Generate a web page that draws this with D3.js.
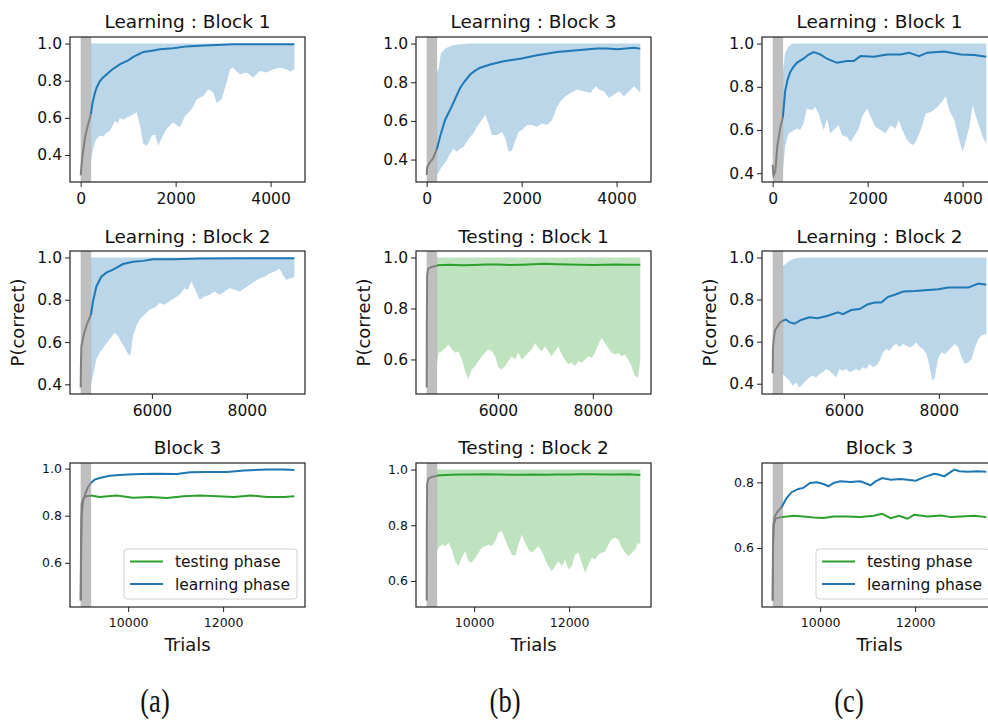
<!DOCTYPE html>
<html><head><meta charset="utf-8">
<script src="https://cdn.jsdelivr.net/npm/d3@7"></script>
<style>body{margin:0;background:#fff}svg{display:block}</style>
</head><body><svg id="c" width="988" height="722"></svg>
<script>
// ---------------- DATA ----------------
const blockStarts = [0, 4500, 9000];
const blockLen = 4500;
const warmEnd = 220;
const xTicksRow = [[0, 2000, 4000], [6000, 8000], [10000, 12000]];
const yTicksA1 = [0.4, 0.6, 0.8, 1.0], yTicksA2 = [0.4, 0.6, 0.8, 1.0], yTicksA3 = [0.6, 0.8, 1.0];
const yTicksB1 = [0.4, 0.6, 0.8, 1.0], yTicksB2 = [0.6, 0.8, 1.0], yTicksB3 = [0.6, 0.8, 1.0];
const yTicksC1 = [0.4, 0.6, 0.8, 1.0], yTicksC2 = [0.4, 0.6, 0.8, 1.0], yTicksC3 = [0.6, 0.8];
const titles = [["Learning : Block 1", "Learning : Block 3", "Learning : Block 1"],
                ["Learning : Block 2", "Testing : Block 1", "Learning : Block 2"],
                ["Block 3", "Testing : Block 2", "Block 3"]];
const panelLabels = ["(a)", "(b)", "(c)"];
const legendLabels = ["testing phase", "learning phase"];

// (a) Learning Block 1
const a1Warm = [[0,0.29],[20,0.35],[40,0.40],[90,0.49],[140,0.55],[215,0.62]];
const a1Mean = [[215,0.62],[250,0.68],[300,0.735],[340,0.765],[400,0.795],[450,0.812],[550,0.835],[650,0.858],[830,0.889],[1000,0.91],[1110,0.928],[1200,0.94],[1320,0.955],[1500,0.962],[1670,0.969],[1950,0.975],[2230,0.985],[2500,0.988],[2860,0.993],[3200,0.997],[3600,0.997],[4000,0.997],[4500,0.996]];
const a1Upper = [[215,1.0],[4500,1.0]];
const a1Lower = [[215,0.37],[240,0.40],[260,0.43],[300,0.47],[350,0.49],[406,0.505],[470,0.50],[546,0.52],[620,0.53],[722,0.585],[780,0.57],[827,0.60],[900,0.59],[968,0.60],[1040,0.61],[1109,0.62],[1179,0.63],[1249,0.558],[1319,0.46],[1389,0.45],[1440,0.47],[1495,0.505],[1565,0.51],[1635,0.45],[1705,0.49],[1760,0.52],[1811,0.54],[1880,0.56],[1951,0.575],[2020,0.56],[2091,0.55],[2197,0.61],[2302,0.635],[2370,0.66],[2443,0.70],[2583,0.718],[2688,0.754],[2794,0.736],[2864,0.68],[2969,0.70],[3074,0.79],[3144,0.862],[3215,0.87],[3285,0.85],[3355,0.835],[3495,0.844],[3636,0.817],[3776,0.853],[3917,0.844],[4057,0.862],[4197,0.87],[4338,0.862],[4420,0.85],[4500,0.862]];

// (a) Learning Block 2
const a2Warm = [[4500,0.385],[4505,0.49],[4515,0.58],[4570,0.64],[4640,0.69],[4715,0.727]];
const a2Mean = [[4715,0.727],[4760,0.793],[4830,0.863],[4935,0.909],[5040,0.928],[5181,0.943],[5392,0.969],[5602,0.98],[5813,0.984],[6025,0.992],[6446,0.992],[7007,0.995],[8060,0.997],[9000,0.997]];
const a2Upper = [[4715,1.0],[9000,1.0]];
const a2Lower = [[4715,0.396],[4760,0.442],[4830,0.52],[4900,0.551],[5005,0.582],[5111,0.613],[5216,0.644],[5286,0.629],[5356,0.598],[5427,0.574],[5497,0.543],[5546,0.535],[5602,0.629],[5672,0.676],[5742,0.707],[5848,0.73],[5953,0.754],[6058,0.762],[6163,0.785],[6268,0.777],[6374,0.793],[6479,0.808],[6584,0.824],[6688,0.855],[6760,0.847],[6830,0.886],[6900,0.855],[7005,0.80],[7111,0.816],[7216,0.824],[7321,0.839],[7427,0.824],[7532,0.839],[7637,0.855],[7742,0.847],[7847,0.839],[7953,0.855],[8058,0.87],[8163,0.886],[8268,0.901],[8374,0.909],[8479,0.925],[8584,0.933],[8688,0.948],[8760,0.917],[8830,0.893],[8900,0.901],[9000,0.906]];

// (a) Block 3
const a3LearnWarm = [[9000,0.44],[9008,0.6],[9020,0.8],[9050,0.86],[9100,0.895],[9150,0.92],[9215,0.939]];
const a3TestWarm = [[9000,0.44],[9008,0.7],[9020,0.85],[9060,0.876],[9120,0.883],[9215,0.885]];
const a3Learn = [[9215,0.939],[9294,0.953],[9400,0.96],[9612,0.97],[9895,0.974],[10248,0.977],[10601,0.978],[11025,0.977],[11308,0.984],[11661,0.986],[12085,0.986],[12438,0.992],[12933,0.996],[13286,0.996],[13500,0.994]];
const a3Test = [[9215,0.886],[9400,0.879],[9753,0.886],[10107,0.876],[10460,0.879],[10813,0.875],[11167,0.883],[11520,0.886],[11873,0.883],[12227,0.879],[12580,0.886],[12933,0.879],[13287,0.879],[13500,0.883]];

// (b) Learning Block 3
const b1Warm = [[0,0.32],[10,0.36],[30,0.37],[60,0.385],[130,0.405],[215,0.455]];
const b1Mean = [[215,0.455],[281,0.518],[387,0.605],[528,0.675],[704,0.77],[800,0.805],[915,0.84],[1020,0.86],[1127,0.875],[1338,0.892],[1620,0.909],[1972,0.922],[2324,0.94],[2747,0.956],[3169,0.965],[3592,0.974],[3800,0.975],[4014,0.971],[4200,0.975],[4366,0.979],[4500,0.974]];
const b1Upper = [[215,0.85],[250,0.87],[300,0.95],[390,0.975],[530,0.99],[700,0.997],[900,1.0],[4500,1.0]];
const b1Lower = [[215,0.318],[316,0.362],[422,0.396],[492,0.43],[563,0.456],[634,0.44],[704,0.456],[774,0.465],[845,0.492],[915,0.518],[985,0.535],[1056,0.57],[1162,0.605],[1232,0.631],[1303,0.587],[1373,0.527],[1479,0.527],[1585,0.544],[1655,0.51],[1726,0.44],[1796,0.447],[1866,0.5],[1937,0.544],[2007,0.553],[2113,0.579],[2219,0.579],[2324,0.57],[2430,0.587],[2536,0.579],[2641,0.605],[2747,0.675],[2818,0.70],[2923,0.727],[3029,0.744],[3170,0.762],[3310,0.753],[3451,0.744],[3557,0.779],[3627,0.762],[3733,0.753],[3839,0.718],[3944,0.736],[4050,0.753],[4156,0.727],[4261,0.753],[4367,0.779],[4437,0.762],[4500,0.744]];

// (b) Testing Block 1
const b2Warm = [[4500,0.49],[4503,0.75],[4510,0.93],[4530,0.955],[4600,0.963],[4715,0.968]];
const b2Mean = [[4715,0.970],[5000,0.972],[5250,0.970],[5500,0.971],[5750,0.973],[6000,0.973],[6250,0.971],[6500,0.972],[6750,0.974],[7000,0.975],[7250,0.974],[7500,0.973],[7750,0.972],[8000,0.971],[8250,0.972],[8500,0.973],[8750,0.972],[9000,0.972]];
const b2Upper = [[4715,1.0],[9000,1.0]];
const b2Lower = [[4715,0.58],[4750,0.626],[4820,0.632],[4890,0.645],[4960,0.659],[5030,0.64],[5100,0.626],[5170,0.632],[5240,0.60],[5310,0.555],[5380,0.522],[5450,0.561],[5520,0.574],[5591,0.594],[5661,0.613],[5731,0.626],[5801,0.64],[5871,0.632],[5941,0.613],[6011,0.568],[6081,0.561],[6151,0.574],[6221,0.594],[6291,0.613],[6361,0.60],[6431,0.626],[6502,0.60],[6572,0.613],[6642,0.626],[6712,0.64],[6782,0.665],[6852,0.645],[6922,0.632],[6992,0.652],[7062,0.632],[7132,0.613],[7203,0.632],[7273,0.652],[7343,0.619],[7413,0.60],[7483,0.581],[7553,0.587],[7623,0.574],[7693,0.594],[7763,0.587],[7834,0.60],[7904,0.613],[7974,0.606],[8044,0.626],[8114,0.659],[8184,0.684],[8254,0.665],[8324,0.645],[8394,0.626],[8465,0.619],[8535,0.626],[8605,0.613],[8675,0.619],[8745,0.60],[8815,0.574],[8885,0.535],[8955,0.529],[9000,0.60]];

// (b) Testing Block 2
const b3Warm = [[9000,0.53],[9003,0.8],[9010,0.95],[9040,0.968],[9120,0.974],[9215,0.977]];
const b3Mean = [[9215,0.979],[9500,0.981],[9750,0.982],[10000,0.982],[10250,0.983],[10500,0.982],[10750,0.981],[11000,0.981],[11250,0.982],[11500,0.981],[11750,0.982],[12000,0.982],[12250,0.983],[12500,0.983],[12750,0.982],[13000,0.982],[13250,0.983],[13500,0.980]];
const b3Upper = [[9215,1.0],[13500,1.0]];
const b3Lower = [[9215,0.707],[9249,0.719],[9319,0.731],[9389,0.725],[9459,0.737],[9530,0.713],[9600,0.671],[9670,0.653],[9740,0.683],[9810,0.707],[9881,0.671],[9951,0.665],[10021,0.683],[10091,0.701],[10161,0.719],[10232,0.725],[10302,0.731],[10372,0.725],[10442,0.743],[10512,0.773],[10582,0.779],[10653,0.749],[10723,0.719],[10793,0.695],[10863,0.689],[10933,0.731],[11004,0.767],[11074,0.737],[11144,0.713],[11214,0.701],[11284,0.713],[11354,0.725],[11425,0.707],[11495,0.677],[11565,0.653],[11635,0.635],[11705,0.653],[11775,0.671],[11846,0.653],[11916,0.677],[11986,0.641],[12056,0.653],[12126,0.695],[12196,0.701],[12267,0.665],[12337,0.629],[12407,0.659],[12477,0.683],[12547,0.677],[12618,0.695],[12688,0.701],[12758,0.707],[12828,0.731],[12898,0.751],[12968,0.755],[13039,0.749],[13109,0.719],[13179,0.701],[13249,0.689],[13319,0.701],[13389,0.713],[13460,0.737],[13500,0.731]];

// (c) Learning Block 1
const c1Warm = [[0,0.44],[10,0.40],[20,0.39],[55,0.41],[100,0.53],[160,0.61],[215,0.66]];
const c1Mean = [[215,0.66],[261,0.778],[310,0.83],[367,0.867],[430,0.89],[508,0.911],[649,0.93],[750,0.948],[861,0.961],[1002,0.95],[1143,0.93],[1354,0.911],[1566,0.919],[1707,0.919],[1848,0.942],[2130,0.939],[2412,0.95],[2695,0.95],[2871,0.958],[3083,0.942],[3259,0.958],[3612,0.963],[3965,0.95],[4247,0.947],[4500,0.939]];
const c1Upper = [[215,0.87],[260,0.955],[330,0.985],[420,1.0],[4500,1.0]];
const c1Lower = [[215,0.413],[261,0.522],[332,0.584],[402,0.592],[508,0.607],[578,0.6],[649,0.63],[720,0.70],[825,0.692],[896,0.707],[966,0.677],[1072,0.6],[1143,0.653],[1213,0.584],[1284,0.6],[1390,0.622],[1460,0.576],[1566,0.568],[1636,0.545],[1707,0.568],[1813,0.607],[1883,0.662],[1989,0.70],[2094,0.646],[2165,0.615],[2271,0.6],[2376,0.584],[2482,0.622],[2588,0.607],[2659,0.646],[2729,0.6],[2835,0.553],[2941,0.53],[3012,0.545],[3118,0.6],[3224,0.677],[3330,0.684],[3435,0.70],[3541,0.724],[3647,0.755],[3718,0.692],[3824,0.646],[3930,0.553],[4000,0.498],[4071,0.553],[4142,0.615],[4212,0.716],[4283,0.662],[4353,0.615],[4424,0.568],[4500,0.535]];

// (c) Learning Block 2
const c2Warm = [[4500,0.45],[4505,0.56],[4520,0.61],[4550,0.655],[4600,0.672],[4660,0.692],[4715,0.70]];
const c2Mean = [[4715,0.70],[4781,0.705],[4852,0.693],[4957,0.685],[5098,0.703],[5274,0.716],[5450,0.711],[5661,0.723],[5873,0.739],[5979,0.731],[6155,0.75],[6331,0.755],[6507,0.778],[6648,0.786],[6789,0.786],[6930,0.813],[7071,0.823],[7247,0.838],[7494,0.841],[7776,0.846],[7987,0.849],[8198,0.857],[8409,0.857],[8621,0.857],[8832,0.876],[9000,0.87]];
const c2Upper = [[4715,0.96],[4780,0.97],[4850,0.985],[4960,0.995],[5100,1.0],[9000,1.0]];
const c2Lower = [[4715,0.446],[4781,0.43],[4852,0.414],[4922,0.39],[4992,0.406],[5063,0.382],[5133,0.398],[5204,0.414],[5274,0.43],[5345,0.438],[5415,0.43],[5485,0.446],[5556,0.454],[5626,0.47],[5697,0.462],[5767,0.446],[5837,0.43],[5908,0.47],[5978,0.462],[6049,0.47],[6119,0.454],[6190,0.462],[6260,0.47],[6331,0.462],[6401,0.478],[6472,0.47],[6542,0.494],[6613,0.478],[6683,0.486],[6754,0.509],[6824,0.549],[6895,0.565],[6965,0.557],[7036,0.581],[7106,0.589],[7176,0.573],[7247,0.589],[7317,0.581],[7388,0.573],[7458,0.581],[7528,0.597],[7599,0.573],[7669,0.565],[7740,0.541],[7810,0.478],[7860,0.414],[7916,0.43],[7987,0.525],[8057,0.549],[8128,0.541],[8198,0.557],[8269,0.573],[8339,0.589],[8409,0.573],[8480,0.525],[8550,0.494],[8621,0.502],[8691,0.517],[8762,0.573],[8832,0.613],[8903,0.629],[8973,0.637],[9000,0.629]];

// (c) Block 3
const c3LearnWarm = [[9000,0.44],[9005,0.6],[9015,0.67],[9040,0.695],[9100,0.71],[9190,0.725]];
const c3TestWarm = [[9000,0.44],[9010,0.62],[9025,0.67],[9060,0.69],[9190,0.694]];
const c3Learn = [[9190,0.725],[9293,0.752],[9399,0.77],[9541,0.78],[9647,0.783],[9788,0.798],[9929,0.80],[10071,0.795],[10177,0.788],[10283,0.798],[10424,0.803],[10636,0.801],[10848,0.803],[11060,0.791],[11166,0.803],[11307,0.813],[11484,0.808],[11696,0.81],[11837,0.808],[12014,0.805],[12191,0.816],[12403,0.826],[12509,0.823],[12615,0.818],[12721,0.829],[12827,0.839],[12933,0.834],[13110,0.832],[13322,0.834],[13500,0.832]];
const c3Test = [[9190,0.694],[9435,0.698],[9647,0.696],[9859,0.693],[10071,0.691],[10283,0.696],[10566,0.696],[10848,0.694],[11131,0.698],[11307,0.704],[11484,0.691],[11661,0.698],[11837,0.689],[11979,0.701],[12261,0.696],[12544,0.699],[12756,0.694],[12968,0.696],[13251,0.698],[13500,0.694]];

// ---------------- LAYOUT / STYLE ----------------
const BLUE = "#1f77b4", GREEN = "#2ca02c";
const colLeft = [70, 416, 762], axW = 235;
const rowTop = [37, 251, 463], rowBottom = [182, 394, 607];
const titleBase = [28, 243, 454];
const tickFont = [15.5, 15.5, 12.5];

const panels = [
  {c:0,r:0,warm:[a1Warm],band:{u:a1Upper,l:a1Lower,col:BLUE},lines:[[a1Mean,BLUE]],yt:yTicksA1},
  {c:0,r:1,warm:[a2Warm],band:{u:a2Upper,l:a2Lower,col:BLUE},lines:[[a2Mean,BLUE]],yt:yTicksA2,ylab:true},
  {c:0,r:2,warm:[a3LearnWarm,a3TestWarm],lines:[[a3Test,GREEN],[a3Learn,BLUE]],yt:yTicksA3,xlab:true,legend:true},
  {c:1,r:0,warm:[b1Warm],band:{u:b1Upper,l:b1Lower,col:BLUE},lines:[[b1Mean,BLUE]],yt:yTicksB1},
  {c:1,r:1,warm:[b2Warm],band:{u:b2Upper,l:b2Lower,col:GREEN},lines:[[b2Mean,GREEN]],yt:yTicksB2,ylab:true},
  {c:1,r:2,warm:[b3Warm],band:{u:b3Upper,l:b3Lower,col:GREEN},lines:[[b3Mean,GREEN]],yt:yTicksB3,xlab:true},
  {c:2,r:0,warm:[c1Warm],band:{u:c1Upper,l:c1Lower,col:BLUE},lines:[[c1Mean,BLUE]],yt:yTicksC1},
  {c:2,r:1,warm:[c2Warm],band:{u:c2Upper,l:c2Lower,col:BLUE},lines:[[c2Mean,BLUE]],yt:yTicksC2,ylab:true},
  {c:2,r:2,warm:[c3LearnWarm,c3TestWarm],lines:[[c3Test,GREEN],[c3Learn,BLUE]],yt:yTicksC3,xlab:true,legend:true}
];

const svg = d3.select("#c");
const FONT = "DejaVu Sans, sans-serif";

panels.forEach((p, i) => {
  const x0 = colLeft[p.c], x1 = x0 + axW, y0 = rowTop[p.r], y1 = rowBottom[p.r];
  const bs = blockStarts[p.r];
  const xm = blockLen * 0.05;
  const x = d3.scaleLinear().domain([bs - xm, bs + blockLen + xm]).range([x0, x1]);
  let all = [];
  p.warm.forEach(s => all = all.concat(s));
  p.lines.forEach(s => all = all.concat(s[0]));
  if (p.band) all = all.concat(p.band.u, p.band.l);
  const ext = d3.extent(all, d => d[1]);
  const ym = (ext[1] - ext[0]) * 0.05;
  const y = d3.scaleLinear().domain([ext[0] - ym, ext[1] + ym]).range([y1, y0]);

  const g = svg.append("g");
  const cid = "clip" + i;
  g.append("clipPath").attr("id", cid).append("rect")
    .attr("x", x0).attr("y", y0).attr("width", axW).attr("height", y1 - y0);
  const pg = g.append("g").attr("clip-path", `url(#${cid})`);
  const line = d3.line().x(d => x(d[0])).y(d => y(d[1]));

  if (p.band) {
    const poly = p.band.u.concat(p.band.l.slice().reverse());
    pg.append("path").attr("d", line(poly) + "Z")
      .attr("fill", p.band.col).attr("fill-opacity", 0.3).attr("stroke", "none");
  }
  pg.append("rect").attr("x", x(bs)).attr("y", y0)
    .attr("width", x(bs + warmEnd) - x(bs)).attr("height", y1 - y0)
    .attr("fill", "#808080").attr("fill-opacity", 0.5);
  p.warm.forEach(s => pg.append("path").attr("d", line(s)).attr("fill", "none")
    .attr("stroke", "#808080").attr("stroke-width", 2));
  p.lines.forEach(s => pg.append("path").attr("d", line(s[0])).attr("fill", "none")
    .attr("stroke", s[1]).attr("stroke-width", 2));

  const fs = tickFont[p.r];
  const ax = g.append("g").attr("transform", `translate(0,${y1})`)
    .call(d3.axisBottom(x).tickValues(xTicksRow[p.r]).tickFormat(d3.format("d")).tickSize(5).tickPadding(6));
  const ay = g.append("g").attr("transform", `translate(${x0},0)`)
    .call(d3.axisLeft(y).tickValues(p.yt).tickFormat(d3.format(".1f")).tickSize(5).tickPadding(3));
  [ax, ay].forEach(a => {
    a.select(".domain").remove();
    a.selectAll("text").attr("font-family", FONT).attr("font-size", fs).attr("fill", "#111");
    a.selectAll("line").attr("stroke", "#222").attr("stroke-width", 1);
  });
  g.append("rect").attr("x", x0).attr("y", y0).attr("width", axW).attr("height", y1 - y0)
    .attr("fill", "none").attr("stroke", "#222").attr("stroke-width", 1.2);

  g.append("text").attr("x", (x0 + x1) / 2).attr("y", titleBase[p.r])
    .attr("text-anchor", "middle").attr("font-family", FONT).attr("font-size", 18.5)
    .attr("fill", "#111").text(titles[p.r][p.c]);

  if (p.ylab) {
    g.append("text").attr("transform", `translate(${x0 - 46},${(y0 + y1) / 2}) rotate(-90)`)
      .attr("text-anchor", "middle").attr("font-family", FONT).attr("font-size", 18)
      .attr("fill", "#111").text("P(correct)");
  }
  if (p.xlab) {
    g.append("text").attr("x", (x0 + x1) / 2).attr("y", y1 + 44)
      .attr("text-anchor", "middle").attr("font-family", FONT).attr("font-size", 18)
      .attr("fill", "#111").text("Trials");
  }
  if (p.legend) {
    const lw = 173, lh = 50, lx = x1 - 8 - lw, ly = y1 - 8 - lh;
    const lg = g.append("g");
    lg.append("rect").attr("x", lx).attr("y", ly).attr("width", lw).attr("height", lh)
      .attr("rx", 3).attr("fill", "#fff").attr("fill-opacity", 0.8)
      .attr("stroke", "#d0d0d0").attr("stroke-width", 1);
    const cols = [GREEN, BLUE];
    legendLabels.forEach((t, k) => {
      const cy = ly + 12.5 + k * 22.5;
      lg.append("line").attr("x1", lx + 6).attr("x2", lx + 39).attr("y1", cy).attr("y2", cy)
        .attr("stroke", cols[k]).attr("stroke-width", 2);
      lg.append("text").attr("x", lx + 51).attr("y", cy + 5.5).attr("font-family", FONT)
        .attr("font-size", 15.5).attr("fill", "#111").text(t);
    });
  }
});

// subfigure labels
const labX = [155, 505, 849];
panelLabels.forEach((t, k) => {
  svg.append("text").attr("transform", `translate(${labX[k]},712) scale(0.78,1)`)
    .attr("text-anchor", "middle")
    .attr("font-family", "Liberation Serif, serif").attr("font-size", 34)
    .attr("fill", "#111").text(t);
});
</script></body></html>
